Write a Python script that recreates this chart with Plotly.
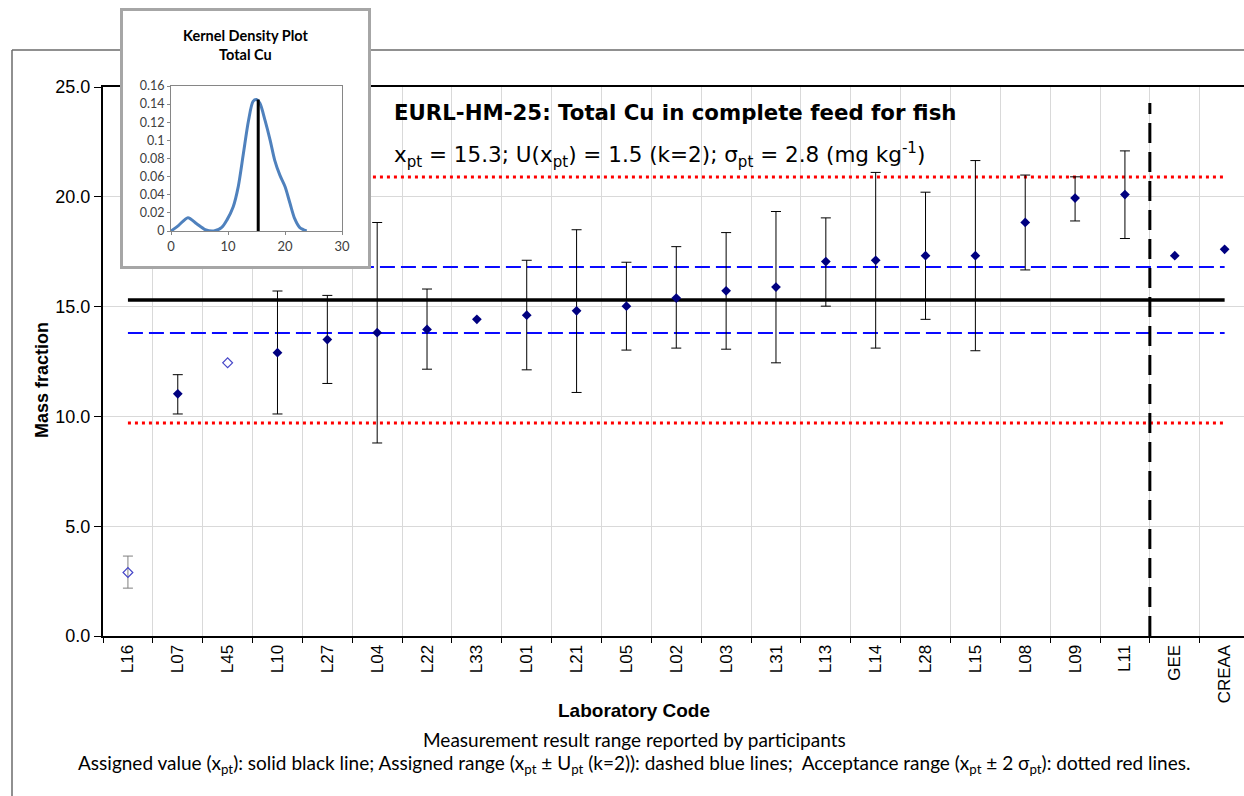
import plotly.graph_objects as go

# ---- proficiency-test results ----
labs = ["L16", "L07", "L45", "L10", "L27", "L04", "L22", "L33", "L01", "L21", "L05",
        "L02", "L03", "L31", "L13", "L14", "L28", "L15", "L08", "L09", "L11", "GEE", "CREAA"]
values = [2.89, 11.03, 12.44, 12.90, 13.50, 13.81, 13.96, 14.42, 14.61, 14.81, 15.02,
          15.39, 15.72, 15.89, 17.05, 17.11, 17.32, 17.32, 18.83, 19.94, 20.10, 17.32, 17.61]
upper = [3.64, 11.90, None, 15.71, 15.51, 18.83, 15.80, None, 17.11, 18.50, 17.02,
         17.73, 18.37, 19.33, 19.04, 21.11, 20.21, 21.65, 20.99, 20.91, 22.09, None, None]
lower = [2.18, 10.11, None, 10.11, 11.50, 8.79, 12.15, None, 12.12, 11.09, 13.02,
         13.11, 13.06, 12.44, 15.02, 13.11, 14.42, 12.99, 16.67, 18.90, 18.10, None, None]
hollow = ["L16", "L45"]          # results drawn with open markers
reference_labs = ["GEE", "CREAA"]

x_pt = 15.3
U_pt = 1.5
sigma_pt = 2.8

# ---- kernel density of the results ----
kde_x = [0, 1.3, 2.97, 4.5, 6.0, 7.5, 8.9, 9.8, 10.9, 11.8, 12.7, 13.6, 14.4, 15.0,
         15.6, 16.5, 17.4, 18.2, 19.1, 20.0, 20.9, 21.7, 22.6, 23.8]
kde_y = [0, 0.006, 0.0147, 0.008, 0.0015, 0.0, 0.004, 0.012, 0.0265, 0.049, 0.0855,
         0.122, 0.143, 0.145, 0.141, 0.122, 0.100, 0.078, 0.0616, 0.049, 0.030, 0.0136,
         0.0037, 0.0]

# ---- page geometry (pixels) ----
W, H = 1244, 796
ML, MR, MT, MB = 103, 0, 10, 160
PW, PH = W - ML - MR, H - MT - MB
AXIS_BOTTOM = H - MB
PLOT_TOP = 87
STEP = 49.85                      # width of one category band


def fx(p):
    return (p - ML) / PW


def fy(p):
    return (AXIS_BOTTOM - p) / PH


ARIAL = "Arial, Liberation Sans, sans-serif"
CALIBRI = "Lato, Open Sans, sans-serif"

fig = go.Figure()

# reference lines across the participants
line_x = [labs[0], labs[-1]]
for yv, col, w, dash in [
    (x_pt + 2 * sigma_pt, "#ff0000", 3, "3px,4px"),
    (x_pt - 2 * sigma_pt, "#ff0000", 3, "3px,4px"),
    (x_pt + U_pt, "#0a0aff", 2, "15px,6px"),
    (x_pt - U_pt, "#0a0aff", 2, "15px,6px"),
    (x_pt, "#000000", 3.5, "solid"),
]:
    fig.add_trace(go.Scatter(x=line_x, y=[yv, yv], mode="lines",
                             line=dict(color=col, width=w, dash=dash),
                             hoverinfo="skip", showlegend=False))

# results, grouped by marker style and presence of an uncertainty bar
groups = {}
for lab, v, up, lo in zip(labs, values, upper, lower):
    key = (lab in hollow, up is not None)
    groups.setdefault(key, []).append((lab, v, up, lo))

for (is_hollow, has_bar), pts in groups.items():
    xs = [p[0] for p in pts]
    ys = [p[1] for p in pts]
    marker = dict(symbol="diamond-open" if is_hollow else "diamond",
                  size=7.5,
                  color="#4646c8" if is_hollow else "#000080",
                  line=dict(width=1.2 if is_hollow else 0,
                            color="#4646c8" if is_hollow else "#000080"))
    err = None
    if has_bar:
        err = dict(type="data", symmetric=False,
                   array=[p[2] - p[1] for p in pts],
                   arrayminus=[p[1] - p[3] for p in pts],
                   color="#7f7f7f" if is_hollow else "#000000",
                   thickness=1, width=5)
    fig.add_trace(go.Scatter(x=xs, y=ys, mode="markers", marker=marker,
                             error_y=err, showlegend=False,
                             hovertemplate="%{x}: %{y}<extra></extra>"))

# ---- inset: kernel density plot ----
# outer box of the inset (own subplot so its background covers the main chart)
fig.add_trace(go.Scatter(x=[None], y=[None], xaxis="x2", yaxis="y2",
                         showlegend=False, hoverinfo="skip"))
fig.add_trace(go.Scatter(x=kde_x, y=kde_y, xaxis="x3", yaxis="y3", mode="lines",
                         line=dict(color="#4f81bd", width=3, shape="spline", smoothing=0.8),
                         showlegend=False, hoverinfo="skip"))
fig.add_trace(go.Scatter(x=[x_pt, x_pt], y=[0, max(kde_y)], xaxis="x3", yaxis="y3",
                         mode="lines", line=dict(color="#000000", width=3),
                         showlegend=False, hoverinfo="skip"))

sep_x = labs.index(reference_labs[0]) - 0.5

fig.update_layout(
    width=W, height=H, autosize=False,
    template="none",
    paper_bgcolor="white", plot_bgcolor="white",
    margin=dict(l=ML, r=MR, t=MT, b=MB, pad=0),
    showlegend=False,
    xaxis=dict(
        type="category", categoryorder="array", categoryarray=labs,
        range=[-0.5, -0.5 + PW / STEP],
        tickson="boundaries", ticks="outside", ticklen=5, tickwidth=1, tickcolor="#000",
        tickangle=-90, tickfont=dict(family=ARIAL, size=17, color="#000"),
        showgrid=True, gridcolor="#d9d9d9", gridwidth=1,
        showline=True, linecolor="#000", linewidth=2, mirror=True,
        zeroline=False, automargin=False, anchor="y",
    ),
    yaxis=dict(
        domain=[0, fy(PLOT_TOP)],
        range=[0, 25], tickvals=[0, 5, 10, 15, 20, 25], tickformat=".1f",
        ticks="outside", ticklen=7, tickwidth=1, tickcolor="#000",
        tickfont=dict(family=ARIAL, size=18, color="#000"),
        showgrid=True, gridcolor="#d9d9d9", gridwidth=1,
        showline=True, linecolor="#000", linewidth=2, mirror=False,
        zeroline=False, automargin=False, anchor="x",
    ),
    xaxis2=dict(domain=[fx(123), fx(368)], range=[0, 1], anchor="y2",
                showline=True, mirror=True, linecolor="#a6a6a6", linewidth=3,
                showgrid=False, zeroline=False, showticklabels=False, ticks="",
                fixedrange=True),
    yaxis2=dict(domain=[fy(266), fy(11)], range=[0, 1], anchor="x2",
                showline=True, mirror=True, linecolor="#a6a6a6", linewidth=3,
                showgrid=False, zeroline=False, showticklabels=False, ticks="",
                fixedrange=True),
    xaxis3=dict(domain=[fx(171), fx(342)], range=[0, 30], dtick=10, anchor="y3",
                showline=True, mirror=True, linecolor="#868686", linewidth=1,
                ticks="outside", ticklen=3, tickcolor="#868686",
                tickfont=dict(family=CALIBRI, size=13, color="#404040"),
                showgrid=False, zeroline=False, fixedrange=True),
    yaxis3=dict(domain=[fy(231), fy(86)], range=[0, 0.16], dtick=0.02, anchor="x3",
                showline=True, mirror=True, linecolor="#868686", linewidth=1,
                ticks="outside", ticklen=3, tickcolor="#868686",
                tickfont=dict(family=CALIBRI, size=12.5, color="#404040"),
                showgrid=False, zeroline=False, fixedrange=True),
)

# chart frame and separator between participants and reference labs
fig.add_shape(type="line", xref="paper", yref="paper", layer="below",
              x0=fx(12), x1=fx(12), y0=fy(50), y1=fy(H + 5),
              line=dict(color="#6b6b6b", width=1.5))
fig.add_shape(type="line", xref="paper", yref="paper", layer="below",
              x0=fx(12), x1=fx(W + 5), y0=fy(50), y1=fy(50),
              line=dict(color="#6b6b6b", width=1.5))
fig.add_shape(type="line", xref="x", yref="y domain", layer="above",
              x0=sep_x, x1=sep_x, y0=0, y1=(AXIS_BOTTOM - 103) / (AXIS_BOTTOM - PLOT_TOP),
              line=dict(color="#000", width=3, dash="20px,9px"))

ann = [
    dict(text="<b>EURL-HM-25: Total Cu in complete feed for fish</b>",
         x=fx(392), y=fy(113), xanchor="left", yanchor="middle",
         font=dict(family="DejaVu Sans", size=21.3, color="#000")),
    dict(text="x<sub>pt</sub> = 15.3; U(x<sub>pt</sub>) = 1.5 (k=2); σ<sub>pt</sub> = 2.8 (mg kg<sup>-1</sup>)",
         x=fx(392), y=fy(155), xanchor="left", yanchor="middle",
         font=dict(family="DejaVu Sans", size=21.5, color="#000")),
    dict(text="<b>Mass fraction</b>", textangle=-90,
         x=fx(42), y=fy(380), xanchor="center", yanchor="middle",
         font=dict(family=ARIAL, size=18, color="#000")),
    dict(text="<b>Laboratory Code</b>",
         x=fx(634), y=fy(710), xanchor="center", yanchor="middle",
         font=dict(family=ARIAL, size=19, color="#000")),
    dict(text="Measurement result range reported by participants",
         x=fx(634), y=fy(739), xanchor="center", yanchor="middle",
         font=dict(family=CALIBRI, size=19, color="#000")),
    dict(text="Assigned value (x<sub>pt</sub>): solid black line; Assigned range "
              "(x<sub>pt</sub> ± U<sub>pt</sub> (k=2)): dashed blue lines;  Acceptance range "
              "(x<sub>pt</sub> ± 2 σ<sub>pt</sub>): dotted red lines.",
         x=fx(634), y=fy(764), xanchor="center", yanchor="middle",
         font=dict(family=CALIBRI, size=19, color="#000")),
    dict(text="<b>Kernel Density Plot<br>Total Cu</b>",
         x=fx(245), y=fy(45), xanchor="center", yanchor="middle",
         font=dict(family=CALIBRI, size=14.5, color="#000")),
]
for a in ann:
    a.setdefault("xref", "paper")
    a.setdefault("yref", "paper")
    a["showarrow"] = False
    fig.add_annotation(**a)

fig.write_html("out.html")
